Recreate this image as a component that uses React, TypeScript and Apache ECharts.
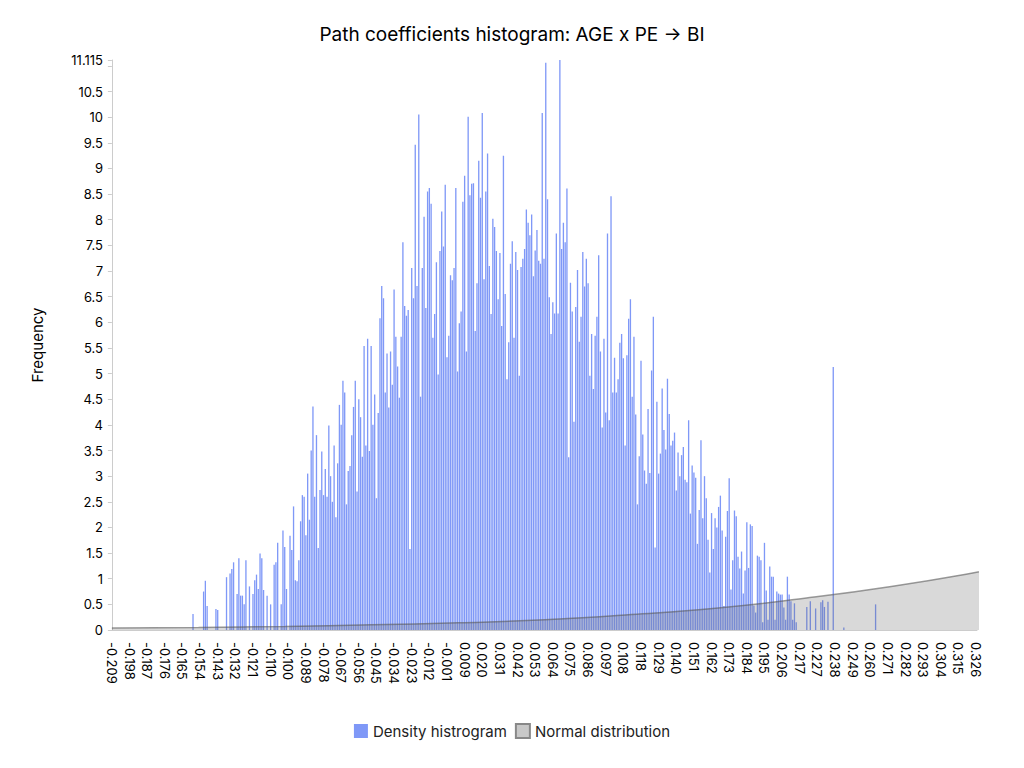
import React, { useEffect, useRef } from "react";
import * as echarts from "echarts";

// tick labels shown every 10 bins
const tickLabels = [
  "-0.209", "-0.198", "-0.187", "-0.176", "-0.165", "-0.154", "-0.143", "-0.132", "-0.121", "-0.110",
  "-0.100", "-0.089", "-0.078", "-0.067", "-0.056", "-0.045", "-0.034", "-0.023", "-0.012", "-0.001",
  "0.009", "0.020", "0.031", "0.042", "0.053", "0.064", "0.075", "0.086", "0.097", "0.108",
  "0.118", "0.129", "0.140", "0.151", "0.162", "0.173", "0.184", "0.195", "0.206", "0.217",
  "0.227", "0.238", "0.249", "0.260", "0.271", "0.282", "0.293", "0.304", "0.315", "0.326",
];

// histogram density, left to right, in pieces
const densityLeft = [
  0, 0, 0, 0, 0, 0, 0, 0, 0, 0, 0, 0, 0, 0, 0, 0, 0, 0, 0, 0, 0, 0,
  0, 0, 0, 0, 0, 0, 0, 0, 0, 0, 0, 0, 0, 0, 0, 0, 0, 0, 0, 0, 0,
];
const densityRise = [
  0, 0, 0, 0.31, 0, 0, 0, 0, 0, 0.75, 0.96, 0.47, 0, 0, 0, 0, 0.41, 0.39, 0, 0,
  0, 0, 1.03, 0, 1.1, 1.19, 1.32, 0, 0.7, 1.4, 0.67, 0.67, 0.5, 1.36, 0, 0.85, 0, 0.7, 0.97, 1.08,
  0.8, 1.49, 1.4, 0.78, 0, 0.67, 0, 0.5, 0, 1.27, 1.32, 1.7, 0, 0.5, 1.94, 1.62, 0.8, 0, 1.84, 1.56,
  2.41, 0.97, 0.95, 1.36, 2.12, 2.63, 2.6, 1.85, 3.05, 2.15, 3.5, 4.36, 2.6, 3.8, 1.6, 2.73, 3.48, 2.63, 3.14, 2.6,
  3.99, 3.0, 2.5, 3.6, 2.2, 3.25, 4.39, 4.0, 4.86, 4.63, 2.45, 3.1, 3.2, 3.8, 4.35, 4.86, 2.7, 4.5, 4.15, 3.38,
];
const densityPeak = [
  5.54, 3.6, 5.68, 3.49, 5.54, 4.0, 4.59, 2.57, 4.23, 6.08, 6.71, 6.47, 4.63, 5.39, 4.34, 5.43, 4.78, 6.64, 5.72, 5.14,
  4.53, 5.72, 7.56, 6.32, 6.13, 6.24, 1.58, 7.06, 6.47, 9.46, 6.71, 10.05, 4.55, 7.06, 8.06, 6.28, 8.55, 8.62, 8.31, 5.7,
  6.16, 7.17, 4.98, 7.39, 8.16, 7.48, 8.68, 5.32, 5.74, 6.92, 6.82, 7.06, 8.62, 5.04, 5.98, 6.21, 8.35, 8.86, 5.43, 10.01,
  8.48, 8.7, 8.71, 5.83, 6.76, 9.15, 8.43, 10.08, 6.84, 8.55, 9.29, 7.1, 6.16, 8.02, 7.86, 7.39, 6.45, 7.35, 5.93, 9.25,
  6.55, 4.89, 5.61, 7.14, 7.58, 5.7, 7.37, 7.02, 4.96, 7.08, 7.24, 7.43, 8.2, 7.94, 7.7, 8.1, 6.9, 7.4, 7.8, 7.2,
];
const densityFall = [
  7.14, 10.08, 7.24, 11.06, 8.4, 6.49, 5.77, 6.39, 6.17, 7.73, 6.17, 11.115, 7.43, 7.94, 7.56, 8.61, 3.37, 6.77, 6.21, 4.06,
  6.3, 7.02, 5.62, 6.11, 7.37, 6.7, 7.24, 6.76, 4.96, 5.77, 4.7, 5.74, 6.11, 7.31, 5.43, 3.95, 5.68, 4.24, 7.73, 4.09,
  8.46, 4.63, 5.31, 4.63, 4.89, 5.6, 5.77, 5.3, 3.6, 5.36, 6.07, 6.45, 4.55, 5.72, 4.2, 2.45, 3.39, 5.25, 3.81, 3.11,
  2.85, 4.31, 3.06, 5.06, 6.11, 1.61, 4.45, 3.05, 3.44, 4.71, 3.9, 3.52, 4.9, 4.21, 3.6, 3.69, 3.85, 2.72, 3.46, 3.0,
  3.41, 3.57, 2.93, 2.88, 4.09, 2.27, 3.21, 3.07, 2.97, 1.68, 2.34, 3.7, 2.18, 3.0, 2.57, 1.76, 1.12, 2.28, 1.58, 2.18,
];
const densityTail = [
  2.0, 2.4, 2.62, 1.94, 0.47, 1.82, 2.32, 2.96, 0.79, 1.36, 2.33, 2.22, 1.43, 1.2, 1.53, 0.71, 1.16, 2.1, 1.21, 2.06,
  2.03, 0.48, 0.34, 1.45, 1.43, 1.36, 0.15, 1.7, 0.77, 0.2, 1.24, 1.04, 1.04, 0.2, 0.75, 0.71, 0.69, 0.69, 0.44, 0.2,
  1.04, 0.69, 0.56, 0.2, 0.52, 0.15, 0, 0, 0, 0, 0, 0.45, 0, 0.56, 0, 0, 0.42, 0, 0, 0.54,
  0.58, 0.45, 0, 0.55, 0, 0, 5.13, 0, 0, 0, 0, 0, 0.05, 0, 0, 0, 0, 0, 0, 0,
  0, 0, 0, 0, 0, 0, 0, 0, 0, 0, 0.5, 0, 0, 0, 0, 0, 0, 0, 0, 0,
  0, 0, 0, 0, 0, 0, 0, 0, 0, 0, 0, 0, 0, 0, 0, 0, 0, 0, 0, 0,
  0, 0, 0, 0, 0, 0, 0, 0, 0, 0, 0, 0, 0, 0, 0, 0, 0, 0, 0, 0,
  0, 0, 0, 0, 0, 0, 0, 0,
];

// normal distribution curve, read at each tick label
const normalY = [
  0.04, 0.05, 0.07, 0.1, 0.14, 0.2, 0.3, 0.43, 0.62, 0.85,
  1.13, 1.45, 1.82, 2.22, 2.63, 3.05, 3.48, 3.9, 4.27, 4.62,
  4.93, 5.18, 5.33, 5.33, 5.17, 4.92, 4.6, 4.2, 3.78, 3.35,
  2.92, 2.5, 2.1, 1.72, 1.37, 1.06, 0.8, 0.6, 0.43, 0.3,
  0.21, 0.15, 0.1, 0.07, 0.05, 0.04, 0.03, 0.025, 0.02, 0.015,
];

const density = [...densityLeft, ...densityRise, ...densityPeak, ...densityFall, ...densityTail];

const App: React.FC = () => {
  const chartRef = useRef<HTMLDivElement>(null);

  useEffect(() => {
    const chart = echarts.init(chartRef.current, null, { renderer: "svg" });
    const n = density.length;
    const categories = density.map((_, i) => (i % 10 === 0 ? tickLabels[i / 10] ?? "" : ""));
    const binW = 10 / n; // in label units
    const option: echarts.EChartsOption = {
      animation: false,
      textStyle: { fontFamily: "Inter, 'Noto Sans', sans-serif" },
      title: {
        text: "Path coefficients histogram: AGE x PE -> BI",
        left: "center",
        top: 12,
        textStyle: { fontSize: 19, fontWeight: "normal", color: "#000" },
      },
      legend: {
        bottom: 16,
        itemWidth: 14,
        itemHeight: 14,
        textStyle: { fontSize: 15, color: "#222" },
        data: [
          { name: "Density histrogram", icon: "rect" },
          { name: "Normal distribution", icon: "rect" },
        ],
      },
      grid: { left: 103, right: 39, top: 52, bottom: 130 },
      xAxis: [
        {
          type: "category",
          data: categories,
          axisLine: { lineStyle: { color: "#ccc" } },
          axisTick: { interval: 0, length: 9, lineStyle: { color: "#d0d0d0" } },
          axisLabel: {
            interval: 9,
            rotate: -90,
            color: "#000",
            fontSize: 13,
            margin: 12,
          },
        },
        {
          type: "value",
          min: -0.5 * binW,
          max: (n - 0.5) * binW,
          show: false,
        },
      ],
      yAxis: {
        type: "value",
        name: "Frequency",
        nameLocation: "middle",
        nameGap: 66,
        nameTextStyle: { fontSize: 15, color: "#000" },
        min: 0,
        max: 11.115,
        interval: 0.5,
        axisLine: { show: true, lineStyle: { color: "#ccc" } },
        axisTick: { show: true, length: 4, lineStyle: { color: "#ccc" } },
        splitLine: { show: false },
        axisLabel: {
          color: "#000",
          fontSize: 13,
          formatter: (v: number) => (v === 11 ? "" : String(Math.round(v * 1000) / 1000)),
        },
      },
      series: [
        {
          name: "Density histrogram",
          type: "bar",
          data: density,
          barCategoryGap: "25%",
          itemStyle: { color: "#7f98f7" },
        },
        {
          name: "Normal distribution",
          type: "line",
          xAxisIndex: 1,
          smooth: true,
          symbol: "none",
          data: normalY.map((y, i) => [i, y]),
          lineStyle: { color: "rgba(90,90,90,0.6)", width: 1.5 },
          areaStyle: { color: "rgba(100,100,100,0.35)" },
          itemStyle: { color: "#c8c8c8", borderColor: "#888", borderWidth: 1 },
        },
      ],
    };
    chart.setOption(option);
    return () => chart.dispose();
  }, []);

  return <div ref={chartRef} style={{ width: 1008, height: 752 }} />;
};

export default App;
